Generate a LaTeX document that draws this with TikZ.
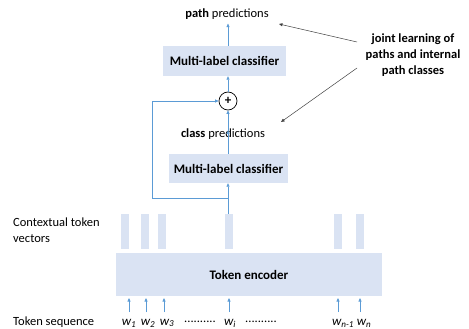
\documentclass[tikz,border=0pt]{standalone}
\usepackage{fontspec}
\setmainfont{Carlito}
\usetikzlibrary{arrows.meta}
\definecolor{boxfill}{HTML}{DAE3F3}
\definecolor{arrblue}{HTML}{5B9BD5}
\begin{document}
\begin{tikzpicture}[x=1pt,y=-1pt,
  box/.style={fill=boxfill,draw=none,inner sep=0pt,font=\bfseries\fontsize{13}{15}\selectfont},
  vec/.style={fill=boxfill,draw=none,minimum width=8pt,minimum height=35pt,inner sep=0pt},
  barr/.style={draw=arrblue,line width=0.6pt,-{Triangle[length=3.5pt,width=3pt]}},
  bline/.style={draw=arrblue,line width=0.6pt},
  garr/.style={draw=black!75,line width=0.5pt,-{Triangle[length=3.5pt,width=3pt]}},
  lbl/.style={font=\fontsize{12.5}{15.5}\selectfont,inner sep=0pt},
  wlbl/.style={font=\itshape\fontsize{13}{15}\selectfont,inner sep=0pt}
]
\useasboundingbox (0,0) rectangle (469,329);
% text above
\node[lbl] (pathpred) at (227,14) {\textbf{path} predictions};
\node[box,minimum width=123pt,minimum height=30pt] (cls2) at (224.5,61) {Multi-label classifier};
\node[circle,draw=black,line width=0.7pt,fill=white,minimum size=18pt,inner sep=0pt,font=\bfseries\fontsize{13}{13}\selectfont] (plus) at (228,101) {+};
\node[lbl] (classpred) at (223,134) {\textbf{class} predictions};
\node[box,minimum width=119pt,minimum height=29pt] (cls1) at (228.5,168.5) {Multi-label classifier};
% token vectors
\foreach \n/\x in {v1/125,v2/145,v3/162,vi/229,vn1/338,vn/360}{
  \node[vec] (\n) at (\x,231.5) {};
}
\node[box,minimum width=266pt,minimum height=43pt] (enc) at (249,274.5) {Token encoder};
% tokens
\node[wlbl] (w1) at (129,323) {w\textsubscript{\textit{1}}};
\node[wlbl] (w2) at (148,323) {w\textsubscript{\textit{2}}};
\node[wlbl] (w3) at (167,323) {w\textsubscript{\textit{3}}};
\node[lbl] (d1) at (200,322) {..........};
\node[wlbl] (wi) at (230,323) {w\textsubscript{\textit{i}}};
\node[lbl] (d2) at (261,322) {..........};
\node[wlbl] (wn1) at (343,323) {w\textsubscript{\textit{n-1}}};
\node[wlbl] (wn) at (364,323) {w\textsubscript{\textit{n}}};
% left labels
\node[lbl,anchor=west,align=left] (ctv) at (13,230) {Contextual token\\vectors};
\node[lbl,anchor=west] (tseq) at (13,322) {Token sequence};
% annotation
\node[font=\bfseries\fontsize{12.5}{16}\selectfont,align=center,inner sep=0pt] (joint) at (413,55) {joint learning of\\paths and internal\\path classes};
% arrows
\foreach \x in {129,146,164,229,338,360}{
  \coordinate (s\x) at (\x,312);
  \coordinate (e\x) at (\x,298);
  \draw[barr] (s\x) -- (e\x);
}
\coordinate (fork) at (228,198);
\coordinate (loopbl) at (152,198);
\coordinate (looptl) at (152,101);
\draw[bline] (vi.north -| fork) -- (fork);
\draw[barr] (fork) -- (cls1.south -| fork);
\draw[barr] (fork) -- (loopbl) -- (looptl) -- (plus.west);
\draw[barr] (cls1.north -| fork) -- ([yshift=-2pt]classpred.north -| fork);
\draw[barr] ([yshift=-3pt]classpred.north -| plus) -- (plus.south);
\draw[barr] (plus.north) -- (cls2.south -| plus);
\draw[barr] (cls2.north -| plus) -- ([yshift=-4pt]pathpred.south -| plus);
\coordinate (j1) at (357,42);
\coordinate (j2) at (357,68);
\coordinate (t1) at (279,24);
\coordinate (t2) at (281,122);
\draw[garr] (j1) -- (t1);
\draw[garr] (j2) -- (t2);
\end{tikzpicture}
\end{document}
